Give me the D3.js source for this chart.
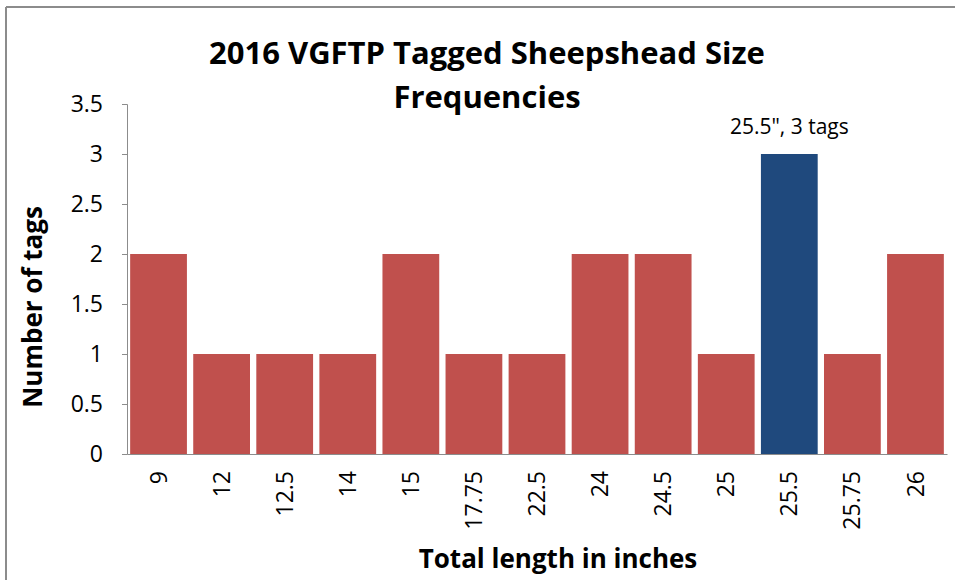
<!DOCTYPE html>
<html>
<head>
<meta charset="utf-8">
<script src="https://cdn.jsdelivr.net/npm/d3@7"></script>
<style>
  body { margin: 0; background: #fff; }
  svg text { font-family: "Open Sans", "DejaVu Sans", sans-serif; fill: #000; }
</style>
</head>
<body>
<div id="chart"></div>
<script>
// Sheepshead size frequencies
const lengths = ["9", "12", "12.5", "14", "15", "17.75", "22.5", "24", "24.5", "25", "25.5", "25.75", "26"];
const tagCounts = [2, 1, 1, 1, 2, 1, 1, 2, 2, 1, 3, 1, 2];
const yTicks = [0, 0.5, 1, 1.5, 2, 2.5, 3, 3.5];
const highlightLength = "25.5";

const width = 955, height = 580;
const margin = { top: 104, right: 8, bottom: 126, left: 127 };

const svg = d3.select("#chart").append("svg")
    .attr("width", width)
    .attr("height", height);

// chart frame (only top and left edges are visible in the crop)
svg.append("line")
    .attr("x1", 6).attr("y1", 7).attr("x2", width).attr("y2", 7)
    .style("stroke", "#8c8c8c").style("stroke-width", 2);
svg.append("line")
    .attr("x1", 6).attr("y1", 7).attr("x2", 6).attr("y2", height)
    .style("stroke", "#8c8c8c").style("stroke-width", 2);

const x = d3.scaleBand()
    .domain(lengths)
    .range([margin.left, width - margin.right])
    .paddingInner(0.1)
    .paddingOuter(0.05);

const y = d3.scaleLinear()
    .domain([0, 3.5])
    .range([height - margin.bottom, margin.top]);

// bars
svg.append("g").selectAll("rect")
    .data(lengths)
    .join("rect")
    .attr("x", d => x(d))
    .attr("y", (d, i) => y(tagCounts[i]))
    .attr("width", x.bandwidth())
    .attr("height", (d, i) => y(0) - y(tagCounts[i]))
    .style("fill", d => d === highlightLength ? "#1f497d" : "#c0504d");

// y axis
const yAxis = svg.append("g")
    .attr("transform", `translate(${margin.left},0)`)
    .call(d3.axisLeft(y).tickValues(yTicks).tickSize(5).tickPadding(19).tickFormat(d3.format("")));
yAxis.select(".domain").style("stroke", "#8c8c8c");
yAxis.selectAll(".tick line").style("stroke", "#8c8c8c");
yAxis.selectAll("text").style("font-size", "23px");

// x axis
const xAxis = svg.append("g")
    .attr("transform", `translate(0,${y(0)})`)
    .call(d3.axisBottom(x).tickSize(0).tickSizeOuter(0));
xAxis.select(".domain").style("stroke", "#8c8c8c");
xAxis.selectAll("text")
    .style("font-size", "23px")
    .attr("transform", "rotate(-90)")
    .attr("text-anchor", "end")
    .attr("dy", "0.35em")
    .attr("x", -17)
    .attr("y", 0);

// annotation on the tallest bar
const hi = lengths.indexOf(highlightLength);
svg.append("text")
    .attr("x", x(highlightLength) + x.bandwidth() / 2)
    .attr("y", y(tagCounts[hi]) - 20)
    .attr("text-anchor", "middle")
    .style("font-size", "21px")
    .text(`${highlightLength}", ${tagCounts[hi]} tags`);

// title
svg.append("text")
    .attr("x", 487).attr("y", 64)
    .attr("text-anchor", "middle")
    .style("font-size", "31px").style("font-weight", "bold")
    .text("2016 VGFTP Tagged Sheepshead Size");
svg.append("text")
    .attr("x", 487).attr("y", 108)
    .attr("text-anchor", "middle")
    .style("font-size", "31px").style("font-weight", "bold")
    .text("Frequencies");

// axis titles
svg.append("text")
    .attr("transform", `translate(42,307) rotate(-90)`)
    .attr("text-anchor", "middle")
    .style("font-size", "26px").style("font-weight", "bold")
    .text("Number of tags");
svg.append("text")
    .attr("x", 558).attr("y", 568)
    .attr("text-anchor", "middle")
    .style("font-size", "26px").style("font-weight", "bold")
    .text("Total length in inches");
</script>
</body>
</html>
